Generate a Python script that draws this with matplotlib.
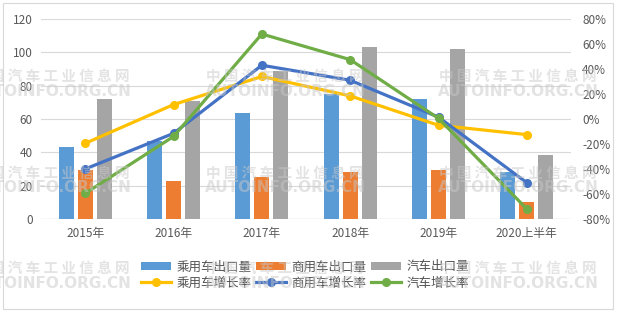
import numpy as np
import matplotlib.pyplot as plt
from matplotlib.ticker import FuncFormatter

plt.rcParams['font.family'] = ['Noto Sans CJK SC', 'DejaVu Sans']

# 数据（万辆 / 增长率%）
years = ['2015年', '2016年', '2017年', '2018年', '2019年', '2020上半年']
car_export = [43, 47, 63.5, 75, 72, 28]
cv_export = [29.5, 23, 25, 28, 29.5, 10]
total_export = [72, 70.5, 89, 103, 102, 38.5]
car_growth = [-19.5, 11.5, 34, 18.5, -5, -12.5]
cv_growth = [-40, -11.5, 43, 31, 1.5, -51]
total_growth = [-59.5, -14, 68, 47.5, 0.5, -72]

c_blue = '#5B9BD5'
c_orange = '#ED7D31'
c_grey = '#A5A5A5'
c_yellow = '#FFC000'
c_lblue = '#4472C4'
c_green = '#70AD47'

fig = plt.figure(figsize=(6.18, 3.12), dpi=100)
ax = fig.add_axes([41 / 618, 1 - 219 / 312, 530 / 618, 200 / 312])
ax2 = ax.twinx()

x = np.arange(len(years))
w = 0.17
step = 0.215
b1 = ax.bar(x - step, car_export, w, color=c_blue, zorder=2, label='乘用车出口量')
b2 = ax.bar(x, cv_export, w, color=c_orange, zorder=2, label='商用车出口量')
b3 = ax.bar(x + step, total_export, w, color=c_grey, zorder=2, label='汽车出口量')

lw = 2.3
ms = 5.5
l1, = ax2.plot(x, car_growth, '-o', color=c_yellow, lw=lw, ms=ms, label='乘用车增长率')
l2, = ax2.plot(x, cv_growth, '-o', color=c_lblue, lw=lw, ms=ms, label='商用车增长率')
l3, = ax2.plot(x, total_growth, '-o', color=c_green, lw=lw, ms=ms, label='汽车增长率')

ax.set_xlim(-0.5, len(years) - 0.5)
ax.set_ylim(0, 120)
ax.set_yticks(range(0, 121, 20))
ax2.set_ylim(-80, 80)
ax2.set_yticks(range(-80, 81, 20))
ax2.yaxis.set_major_formatter(FuncFormatter(lambda v, p: f'{int(v)}%'))

ax.grid(axis='y', color='#D9D9D9', lw=0.8, zorder=0)
ax.set_axisbelow(True)
for a in (ax, ax2):
    for s in ['top', 'left', 'right', 'bottom']:
        a.spines[s].set_visible(False)
ax.axhline(0, color='#D9D9D9', lw=0.9, zorder=1)

ax.set_xticks(x)
ax.set_xticklabels(years)
ax.tick_params(axis='x', length=0, pad=6, labelsize=8.5, colors='#595959')
ax.tick_params(axis='y', length=0, pad=6, labelsize=8.5, colors='#595959')
ax2.tick_params(axis='y', length=0, pad=8, labelsize=8.5, colors='#595959')

handles = [b1, l1, b2, l2, b3, l3]
leg = fig.legend(handles, [h.get_label() for h in handles], ncol=3,
                 loc='center', bbox_to_anchor=(305 / 618, 1 - 275 / 312),
                 frameon=False, fontsize=9, handlelength=2.4, handleheight=0.6,
                 columnspacing=0.4, handletextpad=0.4, labelspacing=0.25)
for t in leg.get_texts():
    t.set_color('#505050')

# 外框
fig.patches.append(plt.Rectangle((3 / 618, 3 / 312), 610 / 618, 306 / 312,
                                 transform=fig.transFigure, fill=False,
                                 edgecolor='#D9D9D9', lw=0.8))

# 水印
for cx in [51, 285, 518]:
    for cy in [76, 173, 268]:
        fig.text(cx / 618, 1 - cy / 312, '中 国 汽 车 工 业 信 息 网', ha='center', va='center',
                 fontsize=10.5, fontweight='bold', color='#C8C8C8', alpha=0.5, zorder=10)
        fig.text(cx / 618, 1 - (cy + 15) / 312, 'AUTOINFO.ORG.CN', ha='center',
                 va='center', fontsize=11, fontweight='bold', color='#C8C8C8', alpha=0.5,
                 zorder=10, family='DejaVu Sans')

fig.savefig('out.png', dpi=100)
